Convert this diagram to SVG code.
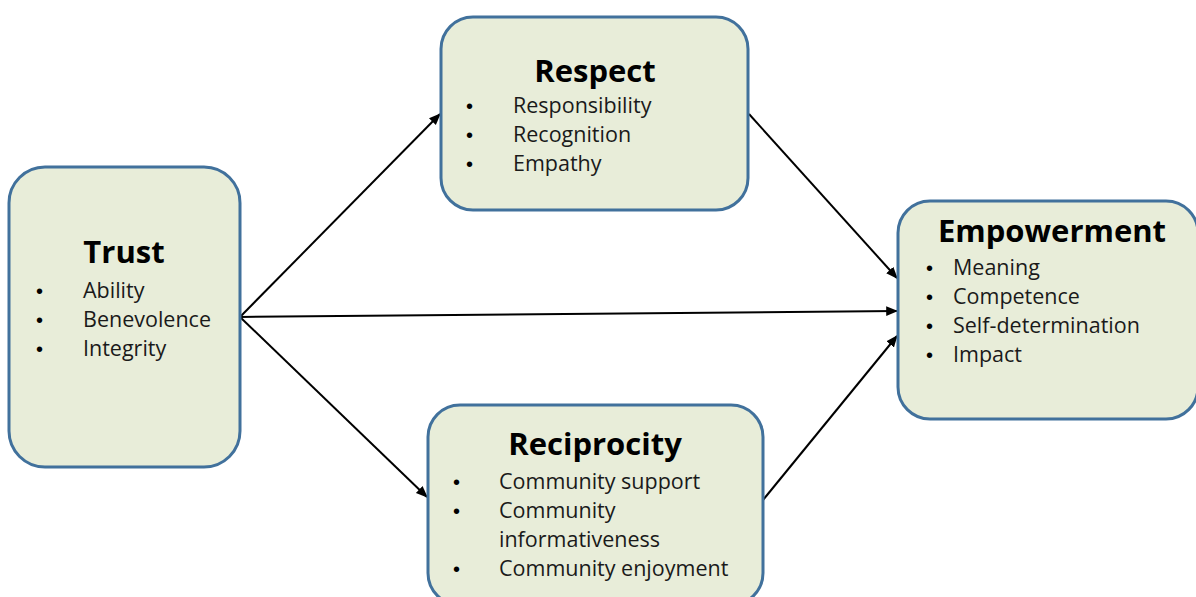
<svg xmlns="http://www.w3.org/2000/svg" width="1196" height="597" viewBox="0 0 1196 597">
  <style>
    .box { fill: #E8EDD9; stroke: #41719C; stroke-width: 3; }
    .title { font-family: "Open Sans", "Liberation Sans", sans-serif; font-weight: bold; font-size: 31px; fill: #000; text-anchor: middle; }
    .item { font-family: "Open Sans", "Liberation Sans", sans-serif; font-size: 21.5px; fill: #1a1a1a; }
    .bullet { font-family: "Liberation Sans", sans-serif; font-size: 20px; fill: #000; }
    .conn { stroke: #000; stroke-width: 2; fill: none; marker-end: url(#arrow); }
  </style>
  <defs>
    <marker id="arrow" viewBox="0 0 10 10" refX="9" refY="5" markerWidth="12" markerHeight="12" markerUnits="userSpaceOnUse" orient="auto">
      <path d="M0,1 L10,5 L0,9 z" fill="#000"/>
    </marker>
  </defs>
  <rect width="1196" height="597" fill="#fff"/>

  <g id="connectors">
    <line class="conn" x1="240" y1="317" x2="440" y2="114"/>
    <line class="conn" x1="240" y1="317" x2="897" y2="311"/>
    <line class="conn" x1="240" y1="317" x2="427" y2="497"/>
    <line class="conn" x1="749" y1="114" x2="897" y2="278"/>
    <line class="conn" x1="763" y1="500" x2="897" y2="336"/>
  </g>

  <g id="trust">
    <rect class="box" x="9" y="167" width="231" height="300" rx="36"/>
    <text class="title" x="124" y="263">Trust</text>
    <text class="bullet" x="36" y="298">•</text>
    <text class="bullet" x="36" y="327">•</text>
    <text class="bullet" x="36" y="356">•</text>
    <text class="item" x="83" y="298">Ability</text>
    <text class="item" x="83" y="327">Benevolence</text>
    <text class="item" x="83" y="356">Integrity</text>
  </g>

  <g id="respect">
    <rect class="box" x="441" y="17" width="307" height="193" rx="32"/>
    <text class="title" x="595" y="82">Respect</text>
    <text class="bullet" x="466" y="113">•</text>
    <text class="bullet" x="466" y="142">•</text>
    <text class="bullet" x="466" y="171">•</text>
    <text class="item" x="513" y="113">Responsibility</text>
    <text class="item" x="513" y="142">Recognition</text>
    <text class="item" x="513" y="171">Empathy</text>
  </g>

  <g id="empowerment">
    <rect class="box" x="898" y="201" width="300" height="218" rx="32"/>
    <text class="title" x="1052" y="242">Empowerment</text>
    <text class="bullet" x="926" y="275">•</text>
    <text class="bullet" x="926" y="304">•</text>
    <text class="bullet" x="926" y="333">•</text>
    <text class="bullet" x="926" y="362">•</text>
    <text class="item" x="953" y="275">Meaning</text>
    <text class="item" x="953" y="304">Competence</text>
    <text class="item" x="953" y="333">Self-determination</text>
    <text class="item" x="953" y="362">Impact</text>
  </g>

  <g id="reciprocity">
    <rect class="box" x="428" y="405" width="335" height="200" rx="32"/>
    <text class="title" x="595" y="455">Reciprocity</text>
    <text class="bullet" x="453" y="489">•</text>
    <text class="bullet" x="453" y="518">•</text>
    <text class="bullet" x="453" y="576">•</text>
    <text class="item" x="499" y="489">Community support</text>
    <text class="item" x="499" y="518">Community</text>
    <text class="item" x="499" y="547">informativeness</text>
    <text class="item" x="499" y="576">Community enjoyment</text>
  </g>
</svg>
